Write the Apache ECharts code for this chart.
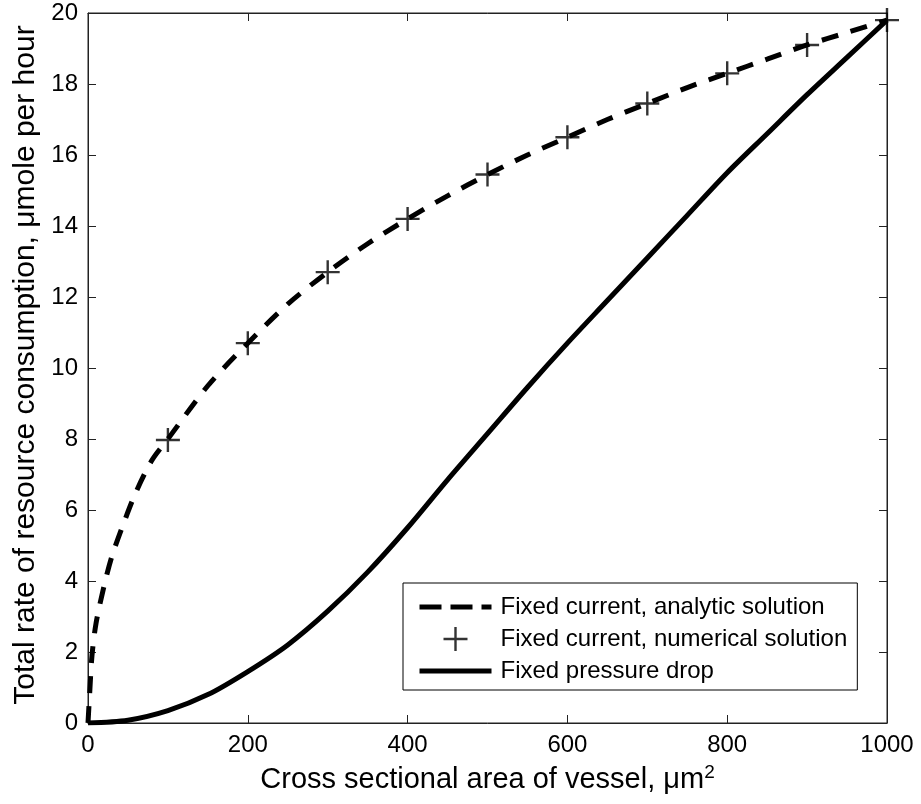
<!DOCTYPE html>
<html>
<head>
<meta charset="utf-8">
<script src="https://cdn.jsdelivr.net/npm/echarts@6/dist/echarts.min.js"></script>
<style>
html,body{margin:0;padding:0;background:#fff;}
#chart{width:921px;height:804px;}
</style>
</head>
<body>
<div id="chart"></div>
<script>
// Fixed current, analytic solution (dashed)
const analyticX = [0, 2, 5, 10, 20, 30, 45, 60, 80, 100, 150, 200, 250, 300, 350, 400, 450, 500, 550, 600, 650, 700, 750, 800, 850, 900, 950, 1000];
const analyticY = [0, 0.8, 1.9, 2.8, 3.85, 4.7, 5.65, 6.5, 7.4, 8.0, 9.5, 10.7, 11.8, 12.7, 13.5, 14.2, 14.85, 15.45, 16.0, 16.5, 17.0, 17.45, 17.9, 18.3, 18.7, 19.1, 19.45, 19.8];
// Fixed current, numerical solution (markers)
const numericX = [100, 200, 300, 400, 500, 600, 700, 800, 900, 1000];
const numericY = [7.97, 10.7, 12.7, 14.2, 15.45, 16.5, 17.45, 18.3, 19.1, 19.8];
// Fixed pressure drop (solid)
const pressureX = [0, 50, 100, 150, 200, 250, 300, 350, 400, 450, 500, 550, 600, 650, 700, 750, 800, 850, 900, 950, 1000];
const pressureY = [0, 0.08, 0.35, 0.8, 1.45, 2.2, 3.15, 4.25, 5.5, 6.85, 8.15, 9.45, 10.7, 11.9, 13.1, 14.3, 15.5, 16.6, 17.7, 18.75, 19.8];

const seriesNames = ['Fixed current, analytic solution', 'Fixed current, numerical solution', 'Fixed pressure drop'];
const xTitle = 'Cross sectional area of vessel, μm';
const yTitle = 'Total rate of resource consumption, μmole per hour';

const zip = (xs, ys) => xs.map((x, i) => [x, ys[i]]);
const plusPath = 'path://M-1.2,-12 h2.4 v24 h-2.4 z M-12,-1.2 h24 v2.4 h-24 z';
const FONT = '"Liberation Sans", Arial, Helvetica, sans-serif';
const AX = '#222';

function mkAxis(type, pos, min, max, interval, showLabel) {
  return {
    type: 'value', position: pos, min: min, max: max, interval: interval,
    gridIndex: 0,
    axisLine: {show: true, onZero: false, lineStyle: {color: AX, width: 1}},
    axisTick: {show: true, inside: true, length: 8, lineStyle: {color: AX, width: 1}},
    axisLabel: {show: showLabel, inside: false, color: '#000', fontSize: 24, fontFamily: FONT,
      margin: 10, formatter: v => String(v)},
    splitLine: {show: false}
  };
}

const xMain = mkAxis('x', 'bottom', 0, 1000, 200, true);
xMain.name = xTitle + '{sup|2}';
xMain.nameLocation = 'middle';
xMain.nameGap = 40;
xMain.nameTextStyle = {color: '#000', fontSize: 29, fontFamily: FONT,
  rich: {sup: {fontSize: 19, fontFamily: FONT, color: '#000', verticalAlign: 'top', padding: [0, 0, 14, 0]}}};
const xTop = mkAxis('x', 'top', 0, 1000, 200, false);

const yMain = mkAxis('y', 'left', 0, 20, 2, true);
yMain.name = yTitle;
yMain.nameLocation = 'middle';
yMain.nameGap = 46;
yMain.nameTextStyle = {color: '#000', fontSize: 30, fontFamily: FONT, padding: [0, 0, 0, 6]};
const yRight = mkAxis('y', 'right', 0, 20, 2, false);

const chart = echarts.init(document.getElementById('chart'), null, {renderer: 'canvas'});
chart.setOption({
  animation: false,
  backgroundColor: '#fff',
  grid: {left: 88, right: 34, top: 13, bottom: 81, containLabel: false,
    show: true, borderColor: AX, borderWidth: 1, backgroundColor: 'transparent'},
  xAxis: [xMain, xTop],
  yAxis: [yMain, yRight],
  legend: {
    orient: 'vertical', left: 403, top: 583,
    backgroundColor: '#fff',
    borderColor: '#000', borderWidth: 1,
    padding: [12, 10, 7, 14],
    itemWidth: 72, itemHeight: 24, itemGap: 8,
    textStyle: {color: '#000', fontSize: 24, fontFamily: FONT, padding: [0, 0, 0, 4]},
    data: [
      {name: seriesNames[0], lineStyle: {width: 5, type: [22, 9], color: '#000'},
        itemStyle: {opacity: 0, color: 'transparent', borderWidth: 0}},
      {name: seriesNames[1], icon: plusPath, itemStyle: {color: '#000'}},
      {name: seriesNames[2], lineStyle: {width: 5, type: 'solid', color: '#000'},
        itemStyle: {opacity: 0, color: 'transparent', borderWidth: 0}}
    ]
  },
  series: [
    {
      name: seriesNames[0], type: 'line', data: zip(analyticX, analyticY),
      showSymbol: false, symbol: 'none', smooth: 0.3,
      lineStyle: {color: '#000', width: 5, type: [17, 13]},
      itemStyle: {color: '#000'}, z: 2
    },
    {
      name: seriesNames[1], type: 'scatter', data: zip(numericX, numericY),
      symbol: plusPath, symbolSize: 24, symbolKeepAspect: true,
      itemStyle: {color: '#000'}, z: 3
    },
    {
      name: seriesNames[2], type: 'line', data: zip(pressureX, pressureY),
      showSymbol: false, symbol: 'none', smooth: 0.3,
      lineStyle: {color: '#000', width: 5, type: 'solid'},
      itemStyle: {color: '#000'}, z: 2
    },
    {
      name: 'frame', type: 'line', xAxisIndex: 1, yAxisIndex: 1, data: [],
      showSymbol: false, silent: true
    }
  ]
});
</script>
</body>
</html>
